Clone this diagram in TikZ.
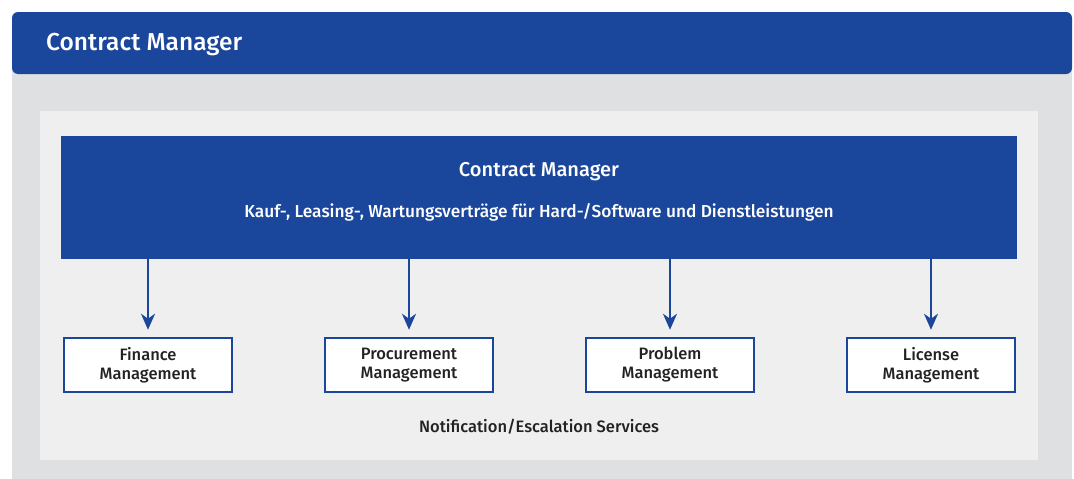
\documentclass[tikz,border=0pt]{standalone}
\usepackage{fontspec}
\setmainfont{Fira Sans}[BoldFont={Fira Sans Medium}]
\usetikzlibrary{arrows.meta}
\definecolor{cmblue}{HTML}{1A469B}
\definecolor{cmgray}{HTML}{DFE0E2}
\definecolor{cmlight}{HTML}{EFEFEF}
\definecolor{cmtext}{HTML}{222222}
\tikzset{ modbox/.style = {draw=cmblue, line width=2.5pt, fill=white, minimum width=168pt, minimum height=54pt, align=center, text=cmtext, font=\bfseries\fontsize{16.5}{19}\selectfont},
  down/.style = {draw=cmblue, line width=2pt, -{Stealth[length=16pt, width=14pt, inset=5pt]}, shorten >=7pt} }

\begin{document}
\begin{tikzpicture}[x=1pt, y=-1pt]
  \useasboundingbox (0,0) rectangle (1074,479);
  \fill[cmgray] (12,70) rectangle (1072,479);
  \fill[cmblue, rounded corners=6pt] (12,12) rectangle (1072,74);
  \node[anchor=west, inner sep=0pt, text=white, font=\bfseries\fontsize{24.5}{28}\selectfont] (head) at (46,45) {Contract Manager};
  \fill[cmlight] (40,111) rectangle (1038,460);

  \node[fill=cmblue, minimum width=956pt, minimum height=123pt] (cm) at (539,197.5) {};
  \node[text=white, font=\bfseries\fontsize{20}{24}\selectfont] (cmtitle) at (539,172) {Contract Manager};
  \node[text=white, font=\bfseries\fontsize{17.3}{20}\selectfont] (cmsub) at (539,212) {Kauf-, Leasing-, Wartungsverträge für Hard-/Software und Dienstleistungen};

  \path (148,365) node[modbox] (fin) {Finance\\Management}
      ++(261,0) node[modbox] (proc) {Procurement\\Management}
      ++(261,0) node[modbox] (prob) {Problem\\Management}
      ++(261,0) node[modbox] (lic) {License\\Management};
  \node[text=cmtext, font=\bfseries\fontsize{16.5}{19}\selectfont] (notif) at (539,427) {Notification/Escalation Services};

  \foreach \m in {fin, proc, prob, lic}
    \draw[down] (cm.south -| \m.north) -- (\m.north);
\end{tikzpicture}
\end{document}
